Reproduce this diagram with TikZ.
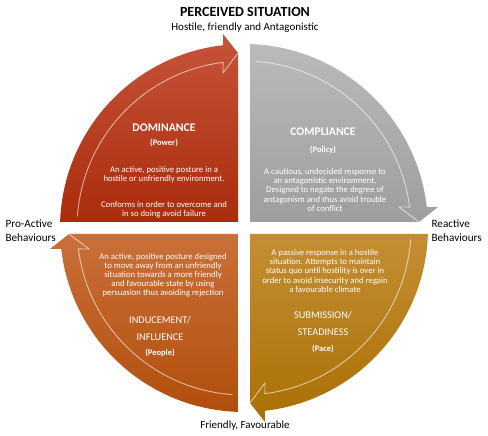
\documentclass[tikz,border=0pt]{standalone}
\usepackage{fontspec}
\setmainfont{Carlito}
\usepackage{xcolor}
\usetikzlibrary{positioning}

\definecolor{domtop}{RGB}{198,84,58}
\definecolor{dombot}{RGB}{170,44,12}
\definecolor{comptop}{RGB}{186,186,186}
\definecolor{compbot}{RGB}{158,158,158}
\definecolor{indtop}{RGB}{202,112,58}
\definecolor{indbot}{RGB}{178,78,12}
\definecolor{subtop}{RGB}{196,142,52}
\definecolor{subbot}{RGB}{170,112,4}

% one quarter, drawn for the top left; the others are turned copies
\newcommand\quarter{(-6,6) -- (-183.9,6) arc[start angle=178.13, end angle=96.55, radius=184] -- (-21,194) -- (-6,175) -- cycle}
\newcommand\quarterglint{(-166.6,11.6) arc[start angle=176, end angle=97.2, radius=167] -- (-21,155) -- (-6,175)}

\tikzset{
  glint/.style={draw=white, opacity=0.6, line width=0.9pt},
  bodytxt/.style={text=white, align=center, font=\fontsize{8.7}{9.1}\selectfont},
  headtxt/.style={text=white, align=center, font=\bfseries\fontsize{11.7}{13}\selectfont},
  captxt/.style={text=white, align=center, font=\fontsize{10.3}{17}\selectfont},
  tagtxt/.style={text=white, align=center, font=\bfseries\fontsize{8.5}{10}\selectfont},
  sidetxt/.style={align=left, font=\fontsize{11.2}{14}\selectfont},
}

\begin{document}
\begin{tikzpicture}[x=1pt, y=1pt]
  \useasboundingbox (0,0) rectangle (488,436);
  \coordinate (C) at (244,208);

  % the four quarters, clockwise
  \begin{scope}[shift={(C)}]
    \shade[top color=domtop, bottom color=dombot] \quarter;
    \draw[glint] \quarterglint;
  \end{scope}
  \begin{scope}[shift={(C)}, rotate=-90]
    \shade[top color=comptop, bottom color=compbot] \quarter;
    \draw[glint] \quarterglint;
  \end{scope}
  \begin{scope}[shift={(C)}, rotate=180]
    \shade[top color=subtop, bottom color=subbot] \quarter;
    \draw[glint] \quarterglint;
  \end{scope}
  \begin{scope}[shift={(C)}, rotate=90]
    \shade[top color=indtop, bottom color=indbot] \quarter;
    \draw[glint] \quarterglint;
  \end{scope}

  % outside labels
  \node[font=\bfseries\fontsize{14}{16}\selectfont] (title) at (245,424) {PERCEIVED SITUATION};
  \node[font=\fontsize{11}{13}\selectfont] (subtitle) at (245,408) {Hostile, friendly and Antagonistic};
  \node[sidetxt, anchor=west] (proact) at (2,205) {Pro-Active\\Behaviours};
  \node[sidetxt, anchor=west] (react) at (428,205) {Reactive\\Behaviours};
  \node[font=\fontsize{11}{13}\selectfont] (friendly) at (245,10) {Friendly, Favourable};

  % top left
  \node[headtxt] (dom) at (164,308) {DOMINANCE};
  \node[tagtxt] (domtag) at (164,293) {(Power)};
  \node[bodytxt] (domtxta) at (164,261.5) {An active, positive posture in a\\hostile or unfriendly environment.};
  \node[bodytxt] (domtxtb) at (164,226.5) {Conforms in order to overcome and\\in so doing avoid failure};

  % top right
  \node[headtxt] (comp) at (323,304) {COMPLIANCE};
  \node[tagtxt] (comptag) at (323,286) {(Policy)};
  \node[bodytxt] (comptxt) at (325,246) {A cautious, undecided response to\\an antagonistic environment.\\Designed to negate the degree of\\antagonism and thus avoid trouble\\of conflict};

  % bottom left
  \node[bodytxt] (indtxt) at (163,160.5) {An active, positive posture designed\\to move away from an unfriendly\\situation towards a more friendly\\and favourable state by using\\persuasion thus avoiding rejection};
  \node[captxt] (ind) at (160,108) {INDUCEMENT/\\INFLUENCE};
  \node[tagtxt] (indtag) at (160,83) {(People)};

  % bottom right
  \node[bodytxt] (subtxt) at (325,165) {A passive response in a hostile\\situation. Attempts to maintain\\status quo until hostility is over in\\order to avoid insecurity and regain\\a favourable climate};
  \node[captxt] (sub) at (323,112.5) {SUBMISSION/\\STEADINESS};
  \node[tagtxt] (subtag) at (323,87) {(Pace)};
\end{tikzpicture}
\end{document}
